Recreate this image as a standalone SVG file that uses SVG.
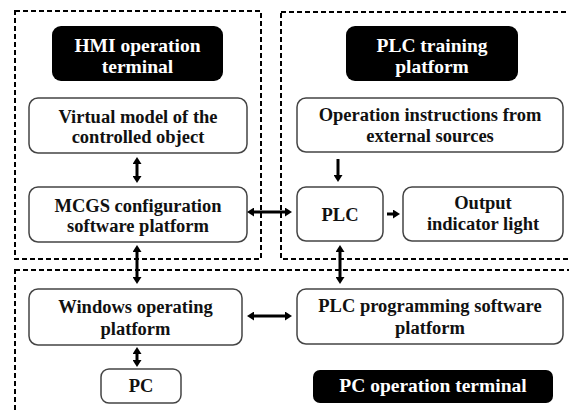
<svg xmlns="http://www.w3.org/2000/svg" width="569" height="412" viewBox="0 0 569 412">
  <style>
    .zone { fill: none; stroke: #000; stroke-width: 2; stroke-dasharray: 5 3; }
    .box { fill: #fff; stroke: #444; stroke-width: 1.5; }
    .tag { fill: #000; }
    .t { font-family: "Liberation Serif", "Times New Roman", serif; font-weight: bold; font-size: 18.5px; fill: #111; text-anchor: middle; }
    .tw { font-family: "Liberation Serif", "Times New Roman", serif; font-weight: bold; font-size: 19.5px; fill: #fff; text-anchor: middle; }
    .link { stroke: #000; stroke-width: 3; fill: none; }
  </style>
  <defs>
    <marker id="head" viewBox="0 0 7 9" refX="0" refY="4.5" markerWidth="7" markerHeight="9" markerUnits="userSpaceOnUse" orient="auto-start-reverse">
      <path d="M0,0 L7,4.5 L0,9 z" fill="#000"/>
    </marker>
  </defs>
  <rect width="569" height="412" fill="#fff"/>

  <!-- terminal zones -->
  <g id="zones">
    <rect class="zone" x="15" y="11" width="246" height="248"/>
    <rect class="zone" x="281" y="12" width="300" height="247"/>
    <rect class="zone" x="15" y="270" width="570" height="160"/>
  </g>

  <!-- HMI operation terminal -->
  <g id="hmi-tag">
    <rect class="tag" x="52" y="26" width="171" height="55" rx="9"/>
    <text class="tw" x="137.5" y="52">HMI operation</text>
    <text class="tw" x="137.5" y="73">terminal</text>
  </g>
  <g id="virtual-model">
    <rect class="box" x="29" y="98" width="218" height="55" rx="9"/>
    <text class="t" x="138" y="123">Virtual model of the</text>
    <text class="t" x="138" y="143">controlled object</text>
  </g>
  <g id="mcgs">
    <rect class="box" x="29" y="187" width="218" height="55" rx="9"/>
    <text class="t" x="138" y="212">MCGS configuration</text>
    <text class="t" x="138" y="232">software platform</text>
  </g>

  <!-- PLC training platform -->
  <g id="plc-tag">
    <rect class="tag" x="346" y="26" width="172" height="55" rx="9"/>
    <text class="tw" x="432" y="52">PLC training</text>
    <text class="tw" x="432" y="73">platform</text>
  </g>
  <g id="instructions">
    <rect class="box" x="297" y="98" width="266" height="54" rx="9"/>
    <text class="t" x="430" y="121">Operation instructions from</text>
    <text class="t" x="430" y="142">external sources</text>
  </g>
  <g id="plc">
    <rect class="box" x="297" y="187" width="86" height="54" rx="9"/>
    <text class="t" x="340" y="221">PLC</text>
  </g>
  <g id="output-light">
    <rect class="box" x="403" y="187" width="160" height="54" rx="9"/>
    <text class="t" x="483" y="209">Output</text>
    <text class="t" x="483" y="230">indicator light</text>
  </g>

  <!-- PC operation terminal -->
  <g id="windows">
    <rect class="box" x="29" y="289" width="213" height="56" rx="9"/>
    <text class="t" x="135.5" y="313">Windows operating</text>
    <text class="t" x="135.5" y="335">platform</text>
  </g>
  <g id="plc-programming">
    <rect class="box" x="297" y="289" width="266" height="55" rx="9"/>
    <text class="t" x="430" y="312">PLC programming software</text>
    <text class="t" x="430" y="334">platform</text>
  </g>
  <g id="pc">
    <rect class="box" x="101" y="369" width="80" height="34" rx="8"/>
    <text class="t" x="141" y="392">PC</text>
  </g>
  <g id="pc-tag">
    <rect class="tag" x="313" y="370" width="240" height="33" rx="7"/>
    <text class="tw" x="433" y="392">PC operation terminal</text>
  </g>

  <!-- connectors -->
  <g id="connectors">
    <line class="link" x1="137" y1="164" x2="137" y2="176" marker-start="url(#head)" marker-end="url(#head)"/>
    <line class="link" x1="254" y1="212" x2="285" y2="212" marker-start="url(#head)" marker-end="url(#head)"/>
    <line class="link" x1="338" y1="159" x2="338" y2="175" marker-end="url(#head)"/>
    <line class="link" x1="387" y1="214" x2="393" y2="214" marker-end="url(#head)"/>
    <line class="link" x1="137" y1="252" x2="137" y2="277" marker-start="url(#head)" marker-end="url(#head)"/>
    <line class="link" x1="340" y1="252" x2="340" y2="277" marker-start="url(#head)" marker-end="url(#head)"/>
    <line class="link" x1="254" y1="316" x2="285" y2="316" marker-start="url(#head)" marker-end="url(#head)"/>
    <line class="link" x1="137" y1="354" x2="137" y2="360" marker-start="url(#head)" marker-end="url(#head)"/>
  </g>
</svg>
